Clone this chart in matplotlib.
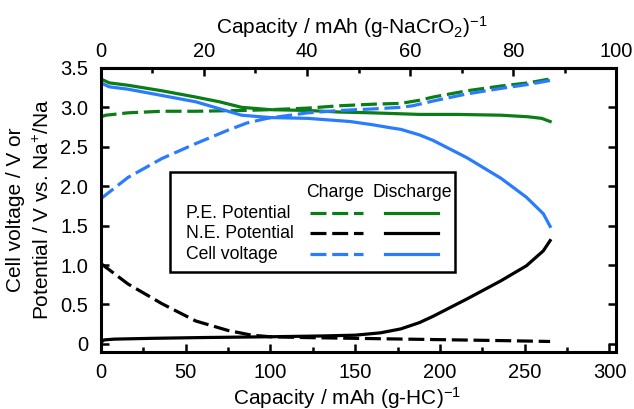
import matplotlib
matplotlib.use('Agg')
import matplotlib.pyplot as plt
from matplotlib.lines import Line2D
from matplotlib.patches import Rectangle
from matplotlib.ticker import MultipleLocator, FixedLocator, FuncFormatter

plt.rcParams['font.family'] = ['Liberation Sans', 'DejaVu Sans']
plt.rcParams['mathtext.default'] = 'regular'

# Capacity per gram of hard carbon (mAh/g)
pe_chg_x = [0, 3, 16, 36, 56, 83, 100, 122, 141, 161, 177, 188, 196, 216, 236, 252, 265]
pe_chg_v = [2.88, 2.90, 2.93, 2.95, 2.95, 2.96, 2.97, 2.99, 3.02, 3.04, 3.05, 3.09, 3.13, 3.21, 3.27, 3.31, 3.36]

pe_dis_x = [0, 5, 16, 36, 56, 70, 83, 100, 122, 141, 160, 188, 210, 236, 252, 260, 265]
pe_dis_v = [3.36, 3.31, 3.28, 3.21, 3.13, 3.07, 3.00, 2.97, 2.96, 2.94, 2.93, 2.91, 2.91, 2.90, 2.88, 2.86, 2.82]

ne_chg_x = [0, 16, 36, 56, 75, 89, 100, 120, 150, 180, 210, 240, 265]
ne_chg_v = [1.02, 0.76, 0.51, 0.29, 0.17, 0.11, 0.09, 0.08, 0.07, 0.06, 0.05, 0.04, 0.03]

ne_dis_x = [0, 2, 8, 30, 60, 100, 130, 150, 165, 177, 188, 196, 216, 236, 251, 261, 265]
ne_dis_v = [0.02, 0.05, 0.06, 0.07, 0.08, 0.09, 0.10, 0.11, 0.14, 0.19, 0.27, 0.35, 0.57, 0.80, 0.99, 1.18, 1.31]

cell_chg_x = [0, 16, 36, 56, 75, 86, 98, 122, 141, 161, 177, 184, 196, 216, 236, 252, 265]
cell_chg_v = [1.84, 2.11, 2.35, 2.54, 2.71, 2.80, 2.86, 2.93, 2.96, 2.98, 3.00, 3.02, 3.08, 3.17, 3.24, 3.29, 3.34]

cell_dis_x = [0, 5, 16, 36, 56, 83, 100, 122, 147, 160, 171, 177, 188, 196, 216, 236, 251, 261, 265]
cell_dis_v = [3.31, 3.26, 3.23, 3.15, 3.07, 2.90, 2.87, 2.86, 2.82, 2.78, 2.74, 2.72, 2.65, 2.58, 2.36, 2.10, 1.86, 1.65, 1.49]

xmax = 304  # HC capacity at the right edge = 100 mAh/g NaCrO2
top_ticks = [0, 20, 40, 60, 80, 100]
top_minor = [10, 30, 50, 70, 90]

green = '#0b7d17'
blue = '#2a7cff'
lw = 2.3
dash = (5, 1.8)
fs_tick = 14.5
fs_label = 15
fs_leg = 12.7

fig = plt.figure(figsize=(6.34, 4.09), dpi=100)
ax = fig.add_axes([0.159, 0.140, 0.813, 0.694])

ax.plot(pe_chg_x, pe_chg_v, color=green, lw=lw, ls='--', dashes=dash)
ax.plot(pe_dis_x, pe_dis_v, color=green, lw=lw)
ax.plot(ne_chg_x, ne_chg_v, color='black', lw=lw, ls='--', dashes=dash)
ax.plot(ne_dis_x, ne_dis_v, color='black', lw=lw)
ax.plot(cell_chg_x, cell_chg_v, color=blue, lw=lw, ls='--', dashes=dash)
ax.plot(cell_dis_x, cell_dis_v, color=blue, lw=lw)

ax.set_xlim(0, xmax)
ax.set_ylim(-0.1, 3.5)

for s in ax.spines.values():
    s.set_linewidth(2.2)

ax.xaxis.set_major_locator(MultipleLocator(50))
ax.xaxis.set_minor_locator(MultipleLocator(25))
ax.yaxis.set_major_locator(MultipleLocator(0.5))
ax.yaxis.set_major_formatter(FuncFormatter(lambda v, p: '0' if abs(v) < 1e-9 else f'{v:.1f}'))
ax.tick_params(which='both', direction='in', right=True, width=1.8, labelsize=fs_tick)
ax.tick_params(which='major', length=6)
ax.tick_params(which='minor', length=3.5)
ax.tick_params(axis='x', pad=8)
ax.tick_params(axis='y', pad=9)

sec = ax.secondary_xaxis('top', functions=(lambda x: x * 100 / xmax, lambda x: x * xmax / 100))
sec.xaxis.set_major_locator(FixedLocator(top_ticks))
sec.xaxis.set_minor_locator(FixedLocator(top_minor))
sec.tick_params(which='both', direction='in', width=1.8, labelsize=fs_tick, pad=5)
sec.tick_params(which='major', length=6)
sec.tick_params(which='minor', length=3.5)
sec.spines['top'].set_linewidth(2.2)
sec.set_xlabel(r'Capacity / mAh (g-NaCrO$_2$)$^{-1}$', fontsize=fs_label, labelpad=6)
sec.xaxis.label.set_x(0.488)

ax.set_xlabel(r'Capacity / mAh (g-HC)$^{-1}$', fontsize=fs_label, labelpad=2)
ax.xaxis.label.set_x(0.478)
ax.set_ylabel('Cell voltage / V or\nPotential / V vs. Na$^{+}$/Na', fontsize=fs_label,
              labelpad=5, linespacing=1.5)

# hand-made legend box
ax.add_patch(Rectangle((0.135, 0.281), 0.553, 0.352, transform=ax.transAxes,
                       fill=False, lw=1.8, ec='black', zorder=5))
ax.text(0.455, 0.561, 'Charge', transform=ax.transAxes, ha='center', va='center', fontsize=fs_leg)
ax.text(0.604, 0.561, 'Discharge', transform=ax.transAxes, ha='center', va='center', fontsize=fs_leg)
rows = ['P.E. Potential', 'N.E. Potential', 'Cell voltage']
row_colors = [green, 'black', blue]
row_y = [0.488, 0.417, 0.343]
for name, c, yy in zip(rows, row_colors, row_y):
    ax.text(0.166, yy, name, transform=ax.transAxes, ha='left', va='center', fontsize=fs_leg)
    ax.add_line(Line2D([0.406, 0.509], [yy, yy], transform=ax.transAxes, color=c,
                       lw=lw, ls='--', dashes=dash))
    ax.add_line(Line2D([0.552, 0.655], [yy, yy], transform=ax.transAxes, color=c, lw=lw))

fig.savefig('out.png', dpi=100)
